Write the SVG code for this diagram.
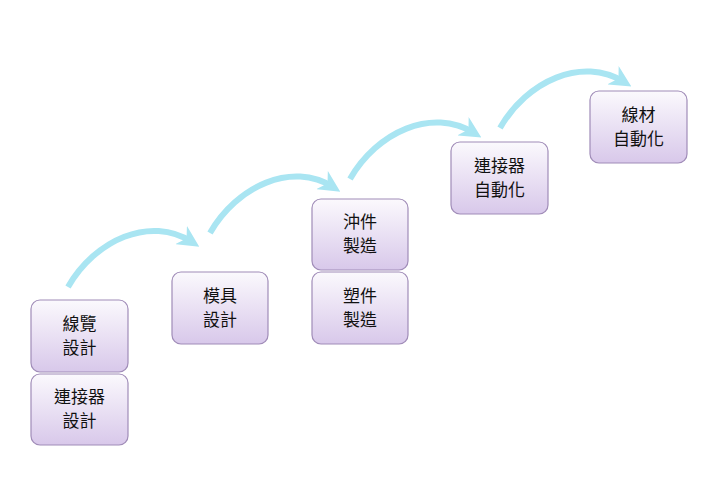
<svg xmlns="http://www.w3.org/2000/svg" width="720" height="500" viewBox="0 0 720 500">
<defs>
<linearGradient id="g" x1="0" y1="0" x2="0" y2="1">
<stop offset="0" stop-color="#fbf9fd"/>
<stop offset="1" stop-color="#d8c8ea"/>
</linearGradient>
<marker id="ah" viewBox="0 0 10 10" refX="6" refY="5" markerWidth="3.6" markerHeight="3.6" orient="auto" markerUnits="strokeWidth">
<path d="M0,0 L10,5 L0,10 L3,5 Z" fill="#a9e5f2"/>
</marker>
<style>
.n rect{fill:url(#g);stroke:#a08cb8;stroke-width:1.2}
.n text{font-family:"Noto Sans CJK TC","Noto Sans CJK SC",sans-serif;font-size:17px;fill:#111;text-anchor:middle}
.c path{fill:none;stroke:#a9e5f2;stroke-width:6;marker-end:url(#ah)}
</style>
</defs>
<rect width="720" height="500" fill="#fff"/>
<g id="connectors" class="c">
<path d="M68,287 C95,240 150,215 192,242"/>
<path d="M210,233 C237,186 292,161 333,187"/>
<path d="M350,179 C377,132 432,107 474,133"/>
<path d="M500,128 C527,81 582,56 624,82"/>
</g>
<g id="n1" class="n"><rect x="31" y="300" width="97" height="72" rx="9"/><text x="79.5" y="330">線覽</text><text x="79.5" y="354">設計</text></g>
<g id="n2" class="n"><rect x="31" y="374" width="97" height="71" rx="9"/><text x="79.5" y="403">連接器</text><text x="79.5" y="427">設計</text></g>
<g id="n3" class="n"><rect x="172" y="272" width="96" height="72" rx="9"/><text x="220" y="302">模具</text><text x="220" y="326">設計</text></g>
<g id="n4" class="n"><rect x="312" y="199" width="96" height="71" rx="9"/><text x="360" y="228">沖件</text><text x="360" y="252">製造</text></g>
<g id="n5" class="n"><rect x="312" y="272" width="96" height="72" rx="9"/><text x="360" y="302">塑件</text><text x="360" y="326">製造</text></g>
<g id="n6" class="n"><rect x="451" y="142" width="97" height="72" rx="9"/><text x="499.5" y="172">連接器</text><text x="499.5" y="196">自動化</text></g>
<g id="n7" class="n"><rect x="590" y="91" width="97" height="72" rx="9"/><text x="638.5" y="121">線材</text><text x="638.5" y="145">自動化</text></g>
</svg>
